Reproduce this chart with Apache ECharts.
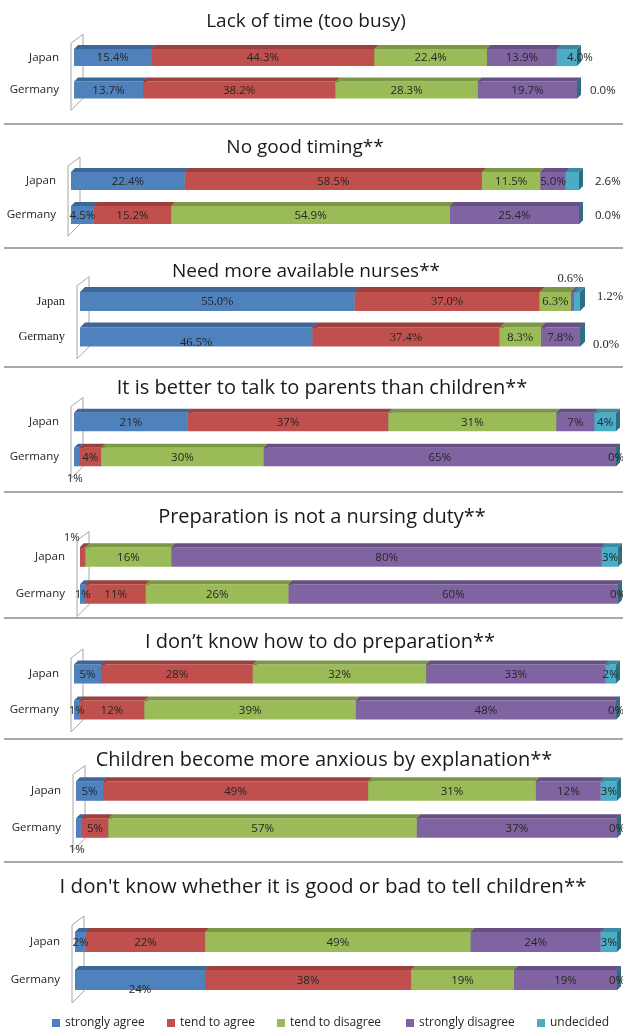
<!DOCTYPE html>
<html>
<head>
<meta charset="utf-8">
<script src="https://cdn.jsdelivr.net/npm/echarts@6/dist/echarts.min.js"></script>
<style>
  html, body { margin: 0; padding: 0; background: #fff; }
  #chart { width: 623px; height: 1030px; }
</style>
</head>
<body>
<div id="chart"></div>
<script>
// ---------------- DATA ----------------
const categories = ['Japan', 'Germany'];
const seriesNames = ['strongly agree', 'tend to agree', 'tend to disagree', 'strongly disagree', 'undecided'];
const titles = [
  'Lack of time (too busy)',
  'No good timing**',
  'Need more available nurses**',
  'It is better to talk to parents than children**',
  'Preparation is not a nursing duty**',
  'I don\u2019t know how to do preparation**',
  'Children become more anxious by explanation**',
  'I don\'t know whether it is good or bad to tell children**'
];
const stronglyAgreeJapan      = [15.4, 22.4, 55.0, 21, 0, 5, 5, 2];
const tendToAgreeJapan        = [44.3, 58.5, 37.0, 37, 1, 28, 49, 22];
const tendToDisagreeJapan     = [22.4, 11.5, 6.3, 31, 16, 32, 31, 49];
const stronglyDisagreeJapan   = [13.9, 5.0, 0.6, 7, 80, 33, 12, 24];
const undecidedJapan          = [4.0, 2.6, 1.2, 4, 3, 2, 3, 3];
const stronglyAgreeGermany    = [13.7, 4.5, 46.5, 1, 1, 1, 1, 24];
const tendToAgreeGermany      = [38.2, 15.2, 37.4, 4, 11, 12, 5, 38];
const tendToDisagreeGermany   = [28.3, 54.9, 8.3, 30, 26, 39, 57, 19];
const stronglyDisagreeGermany = [19.7, 25.4, 7.8, 65, 60, 48, 37, 19];
const undecidedGermany        = [0.0, 0.0, 0.0, 0, 0, 0, 0, 0];
const labelDecimals           = [1, 1, 1, 0, 0, 0, 0, 0];

const japanSeries = [stronglyAgreeJapan, tendToAgreeJapan, tendToDisagreeJapan, stronglyDisagreeJapan, undecidedJapan];
const germanySeries = [stronglyAgreeGermany, tendToAgreeGermany, tendToDisagreeGermany, stronglyDisagreeGermany, undecidedGermany];

// ---------------- STYLE / LAYOUT ----------------
const frontColors = ['#4F81BD', '#C0504D', '#9BBB59', '#8064A2', '#4BACC6'];
const topColors   = ['#3E6797', '#9C3F3D', '#7C9847', '#664F83', '#3A8BA1'];
const sideColors  = ['#2F507A', '#7E312F', '#627A38', '#503E68', '#2D6F81'];

const W = 623;
const layout = [
  { x0: 74, x1: 577, yJ: 57.5, yG: 90,  ty: 22,  tx: 306, d: 4, serif: false, tf: 19 },
  { x0: 71, x1: 579, yJ: 181,  yG: 215, ty: 148, tx: 305, d: 4, serif: false, tf: 19 },
  { x0: 80, x1: 580, yJ: 301.5,yG: 337, ty: 272, tx: 306, d: 5, serif: true,  tf: 19 },
  { x0: 74, x1: 616, yJ: 422,  yG: 457, ty: 388, tx: 322, d: 4, serif: false, tf: 20 },
  { x0: 80, x1: 618, yJ: 557,  yG: 594, ty: 517, tx: 322, d: 4, serif: false, tf: 20 },
  { x0: 74, x1: 616, yJ: 674,  yG: 710, ty: 642, tx: 320, d: 4, serif: false, tf: 20 },
  { x0: 76, x1: 617, yJ: 791,  yG: 828, ty: 760, tx: 324, d: 4, serif: false, tf: 20 },
  { x0: 75, x1: 617, yJ: 942,  yG: 980, ty: 887, tx: 323, d: 4, serif: false, tf: 20.5 }
];
const separators = [124, 248, 367, 492, 618, 739, 862];

// label tweaks: key "panel-row-series"
const labelTweaks = {
  '0-0-4': { dx: 13 },
  '0-1-4': { right: 9 },
  '1-0-4': { right: 12 },
  '1-1-4': { right: 12 },
  '2-0-3': { dx: -2, dy: -23 },
  '2-0-4': { right: 12, dy: -5 },
  '2-1-4': { right: 8, dy: 7 },
  '2-1-0': { dy: 5 },
  '3-1-0': { dx: -2, dy: 21 },
  '4-0-1': { dx: -11, dy: -20 },
  '6-1-0': { dx: -2, dy: 21 },
  '7-1-0': { dy: 9 }
};

const sansFont = 'Open Sans';
const serifFont = 'Liberation Serif';

function rowValues(p, r) {
  const src = r === 0 ? japanSeries : germanySeries;
  return src.map(arr => arr[p]);
}

function makeBarRender(p, s) {
  const L = layout[p];
  return function (params, api) {
    const r = api.value(1);
    const vals = rowValues(p, r);
    const total = vals.reduce((a, b) => a + b, 0);
    let start = 0;
    for (let k = 0; k < s; k++) start += vals[k];
    const a = start / total * 100;
    const b = (start + vals[s]) / total * 100;
    const pa = api.coord([a, r]);
    const pb = api.coord([b, r]);
    const band = api.size([0, 1])[1];
    const h = band * 0.53;
    const yc = pa[1];
    const yt = yc - h / 2, yb = yc + h / 2;
    const xa = pa[0], xb = pb[0];
    const d = L.d;
    const children = [];
    if (xb - xa > 0.01) {
      children.push({ type: 'rect', shape: { x: xa, y: yt, width: xb - xa, height: h },
        style: { fill: frontColors[s] } });
      children.push({ type: 'polygon', shape: { points: [[xa, yt], [xa + d, yt - d], [xb + d, yt - d], [xb, yt]] },
        style: { fill: topColors[s] } });
    }
    children.push({ type: 'polygon', shape: { points: [[xb, yt], [xb + d, yt - d], [xb + d, yb - d], [xb, yb]] },
      style: { fill: sideColors[s] } });

    const v = vals[s];
    if (v > 0 || s === 4) {
      const tw = labelTweaks[p + '-' + r + '-' + s] || {};
      let tx, align = 'center';
      if (tw.right !== undefined) {
        const pe = api.coord([100, r]);
        tx = pe[0] + d + tw.right; align = 'left';
      } else {
        tx = (xa + xb) / 2 + (tw.dx || 0);
      }
      const ty = yc + (tw.dy || 0) + 0.5;
      children.push({ type: 'text', z2: 10, style: {
        x: tx, y: ty, text: v.toFixed(labelDecimals[p]) + '%',
        align: align, verticalAlign: 'middle',
        fill: '#262626',
        font: (L.serif ? '12.5px "' + serifFont + '"' : '11.5px "' + sansFont + '"')
      } });
    }
    return { type: 'group', children: children };
  };
}

function makeWallRender() {
  return function (params, api) {
    const p0 = api.coord([0, 0]);
    const band = api.size([0, 1])[1];
    const x0 = p0[0];
    const gTop = p0[1] - band / 2;
    const gBot = gTop + band * 2;
    return {
      type: 'polygon',
      shape: { points: [[x0 - 3, gTop + 2], [x0 + 9, gTop - 7], [x0 + 9, gBot - 8], [x0 - 3, gBot + 4]] },
      style: { fill: 'none', stroke: '#A6A6A6', lineWidth: 1 }
    };
  };
}

const grids = [], xAxes = [], yAxes = [], series = [], graphics = [];
layout.forEach((L, p) => {
  const band = L.yG - L.yJ;
  grids.push({ left: L.x0, right: W - L.x1, top: L.yJ - band / 2, height: band * 2, containLabel: false });
  xAxes.push({ gridIndex: p, type: 'value', min: 0, max: 100, show: false });
  yAxes.push({ gridIndex: p, type: 'category', data: categories, inverse: true,
    axisLine: { show: false }, axisTick: { show: false }, splitLine: { show: false },
    axisLabel: { margin: 15, color: '#262626', fontSize: L.serif ? 12.5 : 11.5,
      fontFamily: L.serif ? serifFont : sansFont } });
  series.push({ type: 'custom', xAxisIndex: p, yAxisIndex: p, silent: true,
    renderItem: makeWallRender(), data: [[0, 0]], z: 1 });
  seriesNames.forEach((name, s) => {
    series.push({
      type: 'custom', name: name, xAxisIndex: p, yAxisIndex: p,
      itemStyle: { color: frontColors[s] },
      renderItem: makeBarRender(p, s),
      encode: { x: 0, y: 1 },
      data: categories.map((c, r) => [rowValues(p, r)[s], r]),
      z: 2
    });
  });
  graphics.push({ type: 'text', x: L.tx, y: L.ty, style: {
    text: titles[p], align: 'center', verticalAlign: 'middle',
    font: L.tf + 'px "' + sansFont + '"', fill: '#1a1a1a' } });
});
separators.forEach(y => {
  graphics.push({ type: 'line', shape: { x1: 4, y1: y, x2: W, y2: y },
    style: { stroke: '#A8A8A8', lineWidth: 2 } });
});

const legendLefts = [47, 162, 272, 401, 532];
const legends = seriesNames.map((name, s) => ({
  data: [{ name: name, itemStyle: { color: frontColors[s] } }],
  left: legendLefts[s], top: 1012, icon: 'rect', itemWidth: 8, itemHeight: 8, itemGap: 4,
  textStyle: { fontFamily: sansFont, fontSize: 12, color: '#262626' },
  selectedMode: false
}));

const chart = echarts.init(document.getElementById('chart'), null, { renderer: 'canvas' });
chart.setOption({
  animation: false,
  backgroundColor: '#fff',
  grid: grids, xAxis: xAxes, yAxis: yAxes, series: series,
  legend: legends,
  graphic: graphics
});
</script>
</body>
</html>
